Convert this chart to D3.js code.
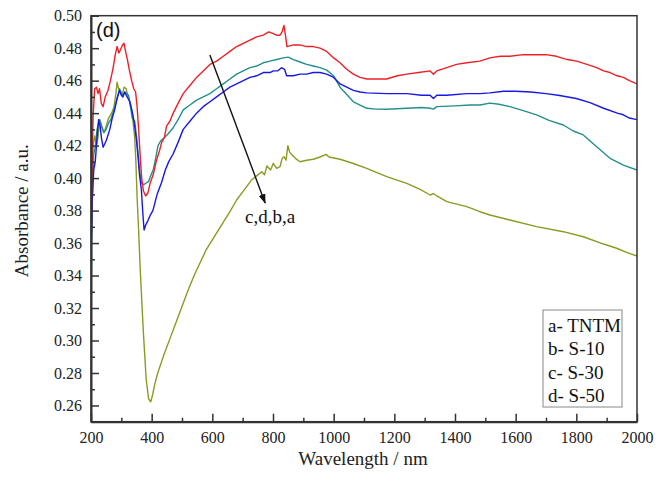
<!DOCTYPE html>
<html>
<head>
<meta charset="utf-8">
<script src="https://d3js.org/d3.v7.min.js"></script>
<style>
  body { margin: 0; background: #fff; }
  svg { display: block; }
  svg text { font-family: "Liberation Serif", "Times New Roman", Times, "DejaVu Serif", serif; fill: #222; }
  .tick text { font-size: 16px; }
  .sans { font-family: "Liberation Sans", Arial, "DejaVu Sans", sans-serif !important; }
</style>
</head>
<body>
<script>
// [wavelength nm, absorbance]
var tntm = [[200,0.352],[203,0.405],[207,0.438],[212,0.455],[218,0.456],[223,0.452],[228,0.455],[234,0.446],[240,0.444],[247,0.450],[256,0.454],[264,0.460],[272,0.467],[280,0.476],[286,0.481],[292,0.477],[297,0.479],[304,0.482],[309,0.483],[314,0.478],[320,0.473],[327,0.466],[334,0.460],[341,0.455],[347,0.453],[352,0.444],[357,0.430],[362,0.414],[367,0.400],[373,0.392],[380,0.389],[388,0.391],[395,0.397],[405,0.402],[416,0.411],[426,0.417],[433,0.422],[442,0.425],[449,0.432],[460,0.435],[471,0.440],[487,0.446],[504,0.452],[526,0.457],[548,0.462],[570,0.466],[592,0.470],[614,0.472],[636,0.475],[658,0.478],[680,0.481],[702,0.483],[724,0.485],[746,0.487],[768,0.488],[786,0.490],[801,0.489],[812,0.488],[823,0.488],[830,0.490],[836,0.494],[841,0.488],[846,0.481],[867,0.482],[889,0.482],[911,0.481],[933,0.481],[955,0.480],[977,0.478],[1000,0.474],[1021,0.471],[1043,0.467],[1065,0.464],[1087,0.462],[1109,0.461],[1140,0.461],[1175,0.461],[1210,0.463],[1241,0.464],[1280,0.465],[1318,0.466],[1329,0.464],[1340,0.466],[1373,0.468],[1405,0.470],[1439,0.471],[1482,0.472],[1515,0.474],[1550,0.475],[1581,0.475],[1625,0.476],[1669,0.476],[1700,0.476],[1735,0.475],[1770,0.473],[1801,0.472],[1835,0.470],[1867,0.468],[1890,0.466],[1911,0.465],[1935,0.463],[1955,0.462],[1975,0.460],[2000,0.458]];

var s10 = [[200,0.350],[204,0.385],[209,0.405],[214,0.410],[220,0.425],[225,0.436],[230,0.432],[235,0.424],[240,0.419],[250,0.423],[262,0.430],[270,0.437],[278,0.442],[286,0.449],[294,0.454],[300,0.451],[305,0.450],[311,0.453],[316,0.451],[322,0.449],[328,0.447],[338,0.439],[344,0.432],[350,0.423],[355,0.413],[360,0.402],[366,0.393],[371,0.378],[375,0.368],[380,0.371],[388,0.374],[395,0.377],[404,0.380],[418,0.390],[432,0.397],[445,0.405],[456,0.410],[471,0.415],[487,0.422],[504,0.430],[526,0.435],[548,0.440],[570,0.444],[592,0.447],[614,0.450],[636,0.453],[658,0.456],[680,0.458],[702,0.460],[724,0.462],[746,0.463],[768,0.465],[790,0.465],[801,0.466],[815,0.466],[828,0.468],[838,0.467],[845,0.463],[867,0.463],[889,0.464],[911,0.464],[933,0.465],[955,0.465],[977,0.464],[1000,0.462],[1021,0.458],[1043,0.456],[1065,0.454],[1087,0.453],[1109,0.4525],[1175,0.452],[1241,0.452],[1290,0.451],[1318,0.451],[1329,0.449],[1340,0.451],[1373,0.451],[1439,0.452],[1482,0.452],[1515,0.4525],[1560,0.4535],[1600,0.4535],[1650,0.453],[1700,0.452],[1740,0.451],[1800,0.449],[1845,0.4465],[1890,0.443],[1935,0.440],[1955,0.439],[1975,0.437],[2000,0.436]];

var s30 = [[200,0.300],[202,0.360],[205,0.395],[209,0.415],[214,0.419],[220,0.430],[228,0.436],[236,0.431],[242,0.428],[250,0.430],[258,0.434],[265,0.436],[274,0.441],[283,0.447],[290,0.452],[294,0.455],[300,0.452],[306,0.451],[312,0.453],[318,0.452],[324,0.451],[330,0.444],[336,0.437],[344,0.435],[350,0.426],[355,0.416],[360,0.405],[366,0.397],[374,0.396],[382,0.397],[390,0.398],[398,0.402],[405,0.405],[413,0.412],[421,0.420],[430,0.423],[442,0.425],[453,0.427],[471,0.431],[487,0.436],[504,0.442],[526,0.445],[548,0.448],[570,0.450],[592,0.452],[614,0.455],[636,0.458],[658,0.461],[680,0.464],[702,0.466],[724,0.468],[746,0.469],[768,0.471],[790,0.472],[812,0.473],[834,0.474],[850,0.4745],[867,0.473],[889,0.4715],[911,0.470],[933,0.469],[955,0.468],[977,0.4665],[1000,0.463],[1021,0.456],[1043,0.4515],[1065,0.447],[1087,0.445],[1109,0.443],[1140,0.4425],[1175,0.4424],[1241,0.443],[1290,0.4435],[1318,0.443],[1329,0.4425],[1340,0.444],[1400,0.4445],[1449,0.445],[1482,0.445],[1515,0.4462],[1545,0.4455],[1581,0.444],[1625,0.4415],[1669,0.4389],[1710,0.4355],[1757,0.4327],[1790,0.429],[1823,0.4266],[1867,0.4193],[1911,0.4122],[1955,0.408],[2000,0.405]];

var s50 = [[200,0.355],[203,0.395],[207,0.420],[212,0.426],[218,0.420],[223,0.425],[229,0.436],[236,0.432],[243,0.428],[250,0.432],[258,0.437],[268,0.440],[276,0.444],[282,0.452],[286,0.459],[291,0.455],[297,0.454],[303,0.451],[309,0.456],[316,0.455],[322,0.450],[328,0.447],[334,0.442],[339,0.434],[344,0.425],[348,0.410],[352,0.388],[357,0.368],[362,0.345],[368,0.322],[373,0.304],[382,0.276],[390,0.264],[397,0.2623],[403,0.2665],[410,0.273],[420,0.280],[440,0.291],[460,0.301],[480,0.311],[500,0.321],[520,0.331],[540,0.340],[560,0.348],[580,0.356],[600,0.362],[620,0.368],[640,0.374],[660,0.380],[680,0.3865],[702,0.392],[729,0.3988],[750,0.402],[763,0.4039],[772,0.402],[780,0.4075],[792,0.405],[801,0.4091],[812,0.406],[823,0.407],[830,0.412],[836,0.4132],[843,0.411],[849,0.420],[855,0.416],[863,0.4142],[875,0.412],[889,0.4101],[911,0.411],[933,0.4116],[955,0.413],[975,0.4146],[985,0.413],[1021,0.4116],[1065,0.409],[1109,0.406],[1175,0.4009],[1241,0.3968],[1285,0.393],[1318,0.3896],[1329,0.3905],[1340,0.389],[1373,0.3855],[1439,0.3824],[1482,0.3793],[1515,0.3773],[1581,0.3742],[1669,0.3701],[1757,0.3670],[1823,0.3639],[1890,0.3594],[1933,0.3568],[1970,0.354],[2000,0.352]];

var seriesData = [s50, s30, s10, tntm];
var seriesColors = ["#8c9a22", "#22908c", "#1818e6", "#ee2026"];
var legendLabels = ["a- TNTM", "b- S-10", "c- S-30", "d- S-50"];
var xTicks = [200, 400, 600, 800, 1000, 1200, 1400, 1600, 1800, 2000];
var yTicks = [0.26, 0.28, 0.30, 0.32, 0.34, 0.36, 0.38, 0.40, 0.42, 0.44, 0.46, 0.48, 0.50];
// arrow annotation (nm, absorbance) and its label
var arrowFrom = [592, 0.4758], arrowTo = [774, 0.3847];
var arrowLabel = "c,d,b,a", arrowLabelAt = [708, 0.3722];

var W = 663, H = 477;
var m = {left: 91, top: 15.7, right: 26, bottom: 55.3};
var iw = W - m.left - m.right, ih = H - m.top - m.bottom;

var svg = d3.select("body").append("svg").attr("width", W).attr("height", H);
var defs = svg.append("defs");
defs.append("clipPath").attr("id", "clip").append("rect").attr("width", iw).attr("height", ih);
defs.append("marker").attr("id", "arr")
  .attr("viewBox", "0 0 10 10").attr("refX", 9).attr("refY", 5)
  .attr("markerWidth", 7).attr("markerHeight", 7).attr("orient", "auto")
  .append("path").attr("d", "M0,1.5L10,5L0,8.5Z").attr("fill", "#111");

var g = svg.append("g").attr("transform", "translate(" + m.left + "," + m.top + ")");

var x = d3.scaleLinear().domain([200, 2000]).range([0, iw]);
var y = d3.scaleLinear().domain([0.25, 0.50]).range([ih, 0]);

var line = d3.line().x(function(d){ return x(d[0]); }).y(function(d){ return y(d[1]); });

// curves
g.append("g").attr("clip-path", "url(#clip)")
  .selectAll("path").data(seriesData).enter().append("path")
  .attr("d", line)
  .attr("fill", "none")
  .attr("stroke", function(d, i){ return seriesColors[i]; })
  .attr("stroke-width", 1.4)
  .attr("stroke-linejoin", "round");

// frame
g.append("rect").attr("width", iw).attr("height", ih)
  .attr("fill", "none").attr("stroke", "#333").attr("stroke-width", 1.5);

// minor ticks
var xMinor = d3.range(300, 2000, 200), yMinor = d3.range(0.25, 0.50, 0.02);
g.append("g").attr("transform", "translate(0," + ih + ")")
  .call(d3.axisBottom(x).tickValues(xMinor).tickSize(-4).tickSizeOuter(0).tickFormat(""))
  .call(function(a){ a.select(".domain").remove(); a.selectAll("line").attr("stroke", "#333").attr("stroke-width", 1.5); });
g.append("g")
  .call(d3.axisLeft(y).tickValues(yMinor).tickSize(-4).tickSizeOuter(0).tickFormat(""))
  .call(function(a){ a.select(".domain").remove(); a.selectAll("line").attr("stroke", "#333").attr("stroke-width", 1.5); });

// major ticks
g.append("g").attr("transform", "translate(0," + ih + ")")
  .call(d3.axisBottom(x).tickValues(xTicks).tickSize(-8).tickSizeOuter(0).tickPadding(10).tickFormat(d3.format("d")))
  .call(function(a){
    a.attr("font-family", null);
    a.select(".domain").attr("stroke", "#333").attr("stroke-width", 2);
    a.selectAll("line").attr("stroke", "#333").attr("stroke-width", 1.5);
  });
g.append("g")
  .call(d3.axisLeft(y).tickValues(yTicks).tickSize(-8).tickSizeOuter(0).tickPadding(9).tickFormat(d3.format(".2f")))
  .call(function(a){
    a.attr("font-family", null);
    a.select(".domain").attr("stroke", "#333").attr("stroke-width", 2);
    a.selectAll("line").attr("stroke", "#333").attr("stroke-width", 1.5);
  });

// axis titles
svg.append("text").attr("x", m.left + iw / 2 - 1).attr("y", 465)
  .attr("text-anchor", "middle")
  .style("font-size", "19px")
  .text("Wavelength / nm");
svg.append("text").attr("transform", "translate(28," + (m.top + ih / 2 - 8) + ") rotate(-90)")
  .attr("text-anchor", "middle")
  .style("font-size", "19px")
  .text("Absorbance / a.u.");

// panel label
g.append("text").attr("class", "sans").attr("x", 5).attr("y", 21)
  .style("font-size", "20px").style("fill", "#111")
  .text("(d)");

// arrow
g.append("line")
  .attr("x1", x(arrowFrom[0])).attr("y1", y(arrowFrom[1]))
  .attr("x2", x(arrowTo[0])).attr("y2", y(arrowTo[1]))
  .attr("stroke", "#111").attr("stroke-width", 1.4).attr("marker-end", "url(#arr)");
g.append("text").attr("x", x(arrowLabelAt[0])).attr("y", y(arrowLabelAt[1]))
  .style("font-size", "19px").style("fill", "#111")
  .text(arrowLabel);

// legend
var lg = svg.append("g").attr("transform", "translate(543,310)");
lg.append("rect").attr("width", 79).attr("height", 97)
  .attr("fill", "#fff").attr("stroke", "#888").attr("stroke-width", 1);
lg.selectAll("text").data(legendLabels).enter().append("text")
  .attr("x", 5).attr("y", function(d, i){ return 22 + i * 23.3; })
  .style("font-size", "19px").style("fill", "#111")
  .text(function(d){ return d; });
</script>
</body>
</html>
